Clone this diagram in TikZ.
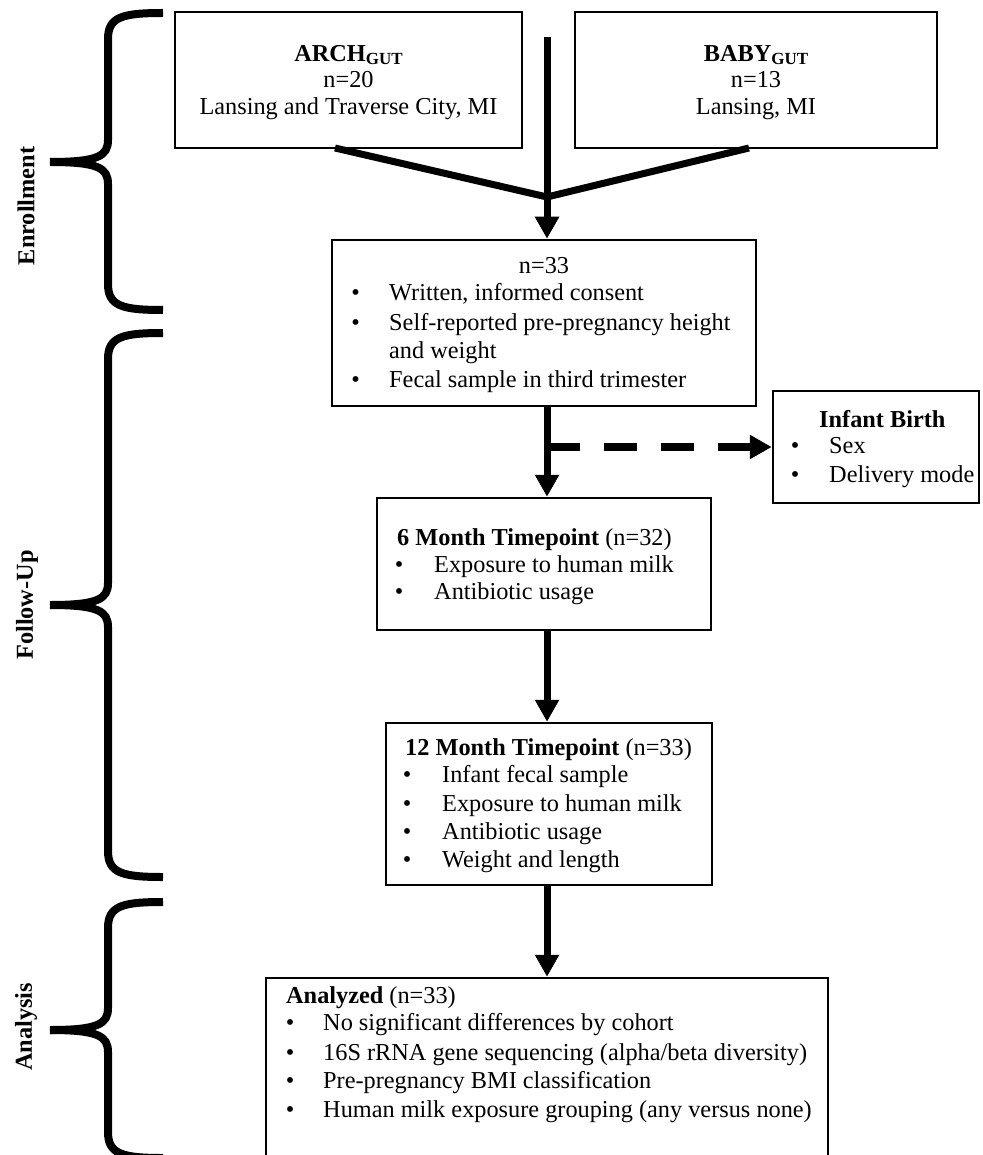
\documentclass[tikz,border=0pt]{standalone}
\usepackage{fontspec}
\setmainfont{Liberation Serif}
\usetikzlibrary{arrows.meta,calc}
\newcommand{\bodyfs}{\fontsize{24.3}{27}\selectfont}
\newcommand{\gutsub}{\raisebox{-2.5pt}{\fontsize{17}{17}\selectfont GUT}}
\begin{document}
\begin{tikzpicture}[x=1pt,y=-1pt,
  box/.style={draw=black,line width=2.5pt,inner sep=0pt},
  txt/.style={inner sep=0pt,anchor=base west,font=\bodyfs},
  ctxt/.style={inner sep=0pt,anchor=base,font=\bodyfs},
  bul/.style={inner sep=0pt,anchor=base,font=\bodyfs},
  flow/.style={line width=7pt,-{Triangle[length=22pt,width=23pt]}},
  dflow/.style={line width=7.5pt,dash pattern=on 33pt off 24pt,-{Triangle[length=22pt,width=23pt]}},
  bracestyle/.style={line width=8pt,line cap=butt},
  phase/.style={inner sep=0pt,rotate=90,font=\bodyfs\bfseries}
]
\useasboundingbox (0,0) rectangle (982,1155);

% ---- braces and phase labels ----
\newcommand{\phasebrace}[3]{%
  \draw[bracestyle] (163,#1) .. controls (122,#1) and (108,#1+4) .. (108,#1+26) -- (108,#2-22) .. controls (108,#2-6) and (98,#2) .. (50,#2);
  \draw[bracestyle] (50,#2) .. controls (98,#2) and (108,#2+6) .. (108,#2+22) -- (108,#3-26) .. controls (108,#3-4) and (122,#3) .. (163,#3);
}
\phasebrace{13}{162}{310}
\phasebrace{333}{605}{877}
\phasebrace{902}{1030}{1158}
\node[phase] (enr) at (26,206) {Enrollment};
\node[phase] (fol) at (27,605) {Follow-Up};
\node[phase] (ana) at (26,1027) {Analysis};

% ---- boxes ----
\node[box,minimum width=347pt,minimum height=136pt] (arch) at (348.5,80) {};
\node[box,minimum width=362pt,minimum height=136pt] (baby) at (756,80) {};
\node[box,minimum width=424pt,minimum height=166pt] (n33) at (544,323) {};
\node[box,minimum width=206pt,minimum height=112pt] (infant) at (876,447) {};
\node[box,minimum width=334pt,minimum height=132pt] (m6) at (544,564) {};
\node[box,minimum width=326pt,minimum height=162pt] (m12) at (549,804) {};
\node[box,minimum width=562pt,minimum height=179pt] (anal) at (547,1067.5) {};

% ---- box texts ----
\node[ctxt] (archa) at (348.5,62) {\bfseries ARCH\gutsub};
\node[ctxt] (archb) at (348.5,88) {n=20};
\node[ctxt] (archc) at (348.5,115) {Lansing and Traverse City, MI};

\node[ctxt] (babya) at (756,62) {\bfseries BABY\gutsub};
\node[ctxt] (babyb) at (756,88) {n=13};
\node[ctxt] (babyc) at (756,115) {Lansing, MI};

\node[ctxt] (n33a) at (544,273) {n=33};
\node[bul] (n33b1) at (355.5,301) {\textbullet};
\node[txt] (n33t1) at (389,301) {Written, informed consent};
\node[bul] (n33b2) at (355.5,330) {\textbullet};
\node[txt] (n33t2) at (389,330) {Self-reported pre-pregnancy height};
\node[txt] (n33t3) at (389,358) {and weight};
\node[bul] (n33b4) at (355.5,387) {\textbullet};
\node[txt] (n33t4) at (389,387) {Fecal sample in third trimester};

\node[txt] (infa) at (819,427) {\bfseries Infant Birth};
\node[bul] (infb1) at (795,453) {\textbullet};
\node[txt] (inft1) at (829,453) {Sex};
\node[bul] (infb2) at (795,482) {\textbullet};
\node[txt] (inft2) at (829,482) {Delivery mode};

\node[txt] (m6a) at (397,545) {{\bfseries 6 Month Timepoint} (n=32)};
\node[bul] (m6b1) at (399,572) {\textbullet};
\node[txt] (m6t1) at (434,572) {Exposure to human milk};
\node[bul] (m6b2) at (399,599) {\textbullet};
\node[txt] (m6t2) at (434,599) {Antibiotic usage};

\node[txt] (m12a) at (405,755) {{\bfseries 12 Month Timepoint} (n=33)};
\node[bul] (m12b1) at (407,782) {\textbullet};
\node[txt] (m12t1) at (442,782) {Infant fecal sample};
\node[bul] (m12b2) at (407,811) {\textbullet};
\node[txt] (m12t2) at (442,811) {Exposure to human milk};
\node[bul] (m12b3) at (407,839) {\textbullet};
\node[txt] (m12t3) at (442,839) {Antibiotic usage};
\node[bul] (m12b4) at (407,867) {\textbullet};
\node[txt] (m12t4) at (442,867) {Weight and length};

\node[txt] (anala) at (286,1003) {{\bfseries Analyzed} (n=33)};
\node[bul] (analb1) at (290,1030) {\textbullet};
\node[txt] (analt1) at (323,1030) {No significant differences by cohort};
\node[bul] (analb2) at (290,1060) {\textbullet};
\node[txt] (analt2) at (323,1060) {16S rRNA gene sequencing (alpha/beta diversity)};
\node[bul] (analb3) at (290,1088) {\textbullet};
\node[txt] (analt3) at (323,1088) {Pre-pregnancy BMI classification};
\node[bul] (analb4) at (290,1117) {\textbullet};
\node[txt] (analt4) at (323,1117) {Human milk exposure grouping (any versus none)};

% ---- connectors ----
\coordinate (spine) at (547,0);
\coordinate (top) at (547,37);
\coordinate (join) at (547,197);
\coordinate (archout) at (335,148);
\coordinate (babyout) at (749,148);
\draw[line width=7pt,line join=miter] (archout) -- (join) -- (babyout);
\draw[flow] (top) -- (spine |- n33.north);
\draw[flow] (spine |- n33.south) -- (spine |- m6.north);
\draw[dflow] (spine |- infant.west) -- (infant.west);
\draw[flow] (spine |- m6.south) -- (spine |- m12.north);
\draw[flow] (spine |- m12.south) -- (spine |- anal.north);
\end{tikzpicture}
\end{document}
